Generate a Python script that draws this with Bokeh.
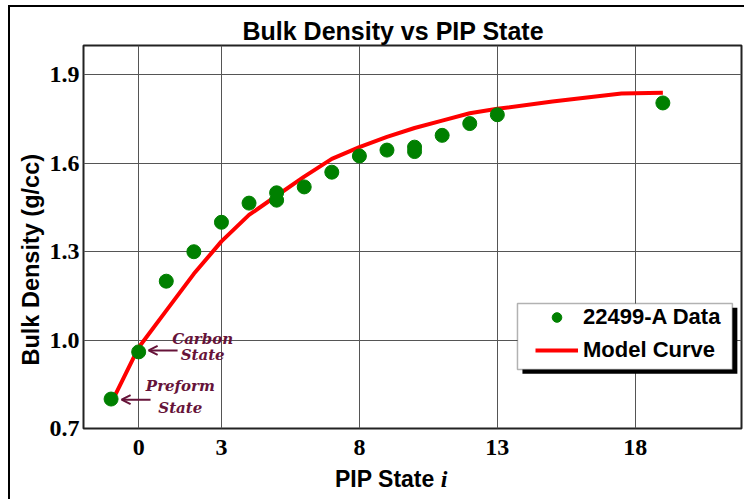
import math
from bokeh.plotting import figure
from bokeh.layouts import column
from bokeh.models import (FixedTicker, NumeralTickFormatter, Label, Arrow, OpenHead,
                          BoxAnnotation, Legend, LegendItem, Range1d, Title, Div)
from bokeh.embed import file_html
from bokeh.resources import INLINE

# ---- data ----
pip_state = [-1, 0, 1, 2, 3, 4, 5, 5, 6, 7, 8, 9, 10, 10, 11, 12, 13, 19]
bulk_density = [0.80, 0.96, 1.20, 1.30, 1.40, 1.465, 1.50, 1.475, 1.52, 1.57,
                1.625, 1.645, 1.655, 1.64, 1.695, 1.735, 1.765, 1.805]

model_state = [-1, 0, 1, 2, 3, 4, 5, 6, 7, 8, 9, 10, 11, 12, 13, 15, 17.5, 19]
model_density = [0.785, 0.975, 1.10, 1.225, 1.335, 1.425, 1.49, 1.555, 1.615, 1.655,
                 1.69, 1.72, 1.745, 1.77, 1.785, 1.81, 1.837, 1.84]

x_ticks = [0, 3, 8, 13, 18]
y_ticks = [0.7, 1.0, 1.3, 1.6, 1.9]

title_text = "Bulk Density vs PIP State"
x_label = "PIP State"
x_label_var = "i"
y_label = "Bulk Density  (g/cc)"
series_names = ["22499-A Data", "Model Curve"]

MAROON = "#661339"
SANS = "Liberation Sans"
SERIF = "Liberation Serif"

p = figure(width=734, height=462, output_backend="svg", toolbar_location=None,
           x_range=Range1d(-2, 21.85), y_range=Range1d(0.7, 2.0),
           min_border_left=73, min_border_right=3, min_border_top=38, min_border_bottom=41)
p.title = Title(text=title_text, align="left", offset=159, standoff=2,
                text_font=SANS, text_font_style="bold", text_font_size="25px",
                text_color="black")
p.background_fill_color = "white"
p.border_fill_color = "white"
p.outline_line_color = "#222222"
p.outline_line_width = 2

for ax in (p.xaxis[0], p.yaxis[0]):
    ax.axis_line_color = None
    ax.major_tick_line_color = None
    ax.minor_tick_line_color = None
    ax.major_tick_out = 0
    ax.major_tick_in = 0
    ax.minor_tick_out = 0
    ax.minor_tick_in = 0
    ax.major_label_text_font = SERIF
    ax.major_label_text_font_style = "bold"
    ax.major_label_text_font_size = "24px"
    ax.major_label_text_color = "black"

p.xaxis.ticker = FixedTicker(ticks=x_ticks)
p.yaxis.ticker = FixedTicker(ticks=y_ticks)
p.yaxis.formatter = NumeralTickFormatter(format="0.0")
p.xaxis.major_label_standoff = 11
p.yaxis.major_label_standoff = 4

p.xgrid.ticker = FixedTicker(ticks=x_ticks)
p.ygrid.ticker = FixedTicker(ticks=y_ticks)
for g in (p.xgrid[0], p.ygrid[0]):
    g.grid_line_color = "#555555"
    g.grid_line_width = 1

# y axis label as a vertical title in the left panel
p.add_layout(Title(text=y_label, align="left", offset=63, standoff=6,
                   text_font=SANS, text_font_style="bold", text_font_size="23.5px",
                   text_color="black"), "left")

# ---- glyphs ----
line_r = p.line(model_state, model_density, line_color="#FF0000", line_width=4)
pts_r = p.scatter(pip_state, bulk_density, size=14, fill_color="#008000",
                  line_color="#008000", marker="circle")

# ---- legend box with shadow ----
p.add_layout(BoxAnnotation(left=13.91, right=21.70, top=1.110, bottom=0.886,
                           fill_color="black", fill_alpha=1.0, line_color=None,
                           level="annotation"))
p.add_layout(BoxAnnotation(left=13.73, right=21.52, top=1.124, bottom=0.900,
                           fill_color="white", fill_alpha=1.0, line_color="black",
                           line_width=1.5, level="annotation"))

legend = Legend(items=[LegendItem(label=series_names[0], renderers=[pts_r]),
                       LegendItem(label=series_names[1], renderers=[line_r])],
                location=(447, 60), padding=5, spacing=7, margin=0,
                glyph_width=43, glyph_height=24, label_height=24, label_standoff=5,
                label_text_font=SANS, label_text_font_style="bold",
                label_text_font_size="22px", label_text_color="black",
                background_fill_alpha=0, border_line_alpha=0)
p.add_layout(legend, "center")

# ---- annotations ----
def ann(text, x, y):
    p.add_layout(Label(x=x, y=y, text=text, text_font="DejaVu Serif",
                       text_font_style="bold italic", text_font_size="15px",
                       text_color=MAROON, text_align="center", text_baseline="middle"))

ann("Carbon", 2.32, 1.005)
ann("State", 2.32, 0.948)
ann("Preform", 1.51, 0.843)
ann("State", 1.51, 0.768)

for xs, xe, yy in [(1.41, 0.36, 0.965), (0.43, -0.62, 0.798)]:
    p.add_layout(Arrow(x_start=xs, y_start=yy, x_end=xe, y_end=yy,
                       line_color=MAROON, line_width=2,
                       end=OpenHead(size=9, line_color=MAROON, line_width=2)))

# ---- x axis label strip (two fonts) ----
xlab_html = (
    '<div style="position:relative;width:734px;height:30px;">'
    '<span style="position:absolute;left:325px;top:-2px;white-space:nowrap;'
    'font-family:\'Liberation Sans\';font-weight:bold;font-size:23px;line-height:1;color:black;">'
    f'{x_label} <span style="font-family:\'Liberation Serif\';font-style:italic;'
    f'font-size:24px;">{x_label_var}</span></span></div>'
)
xdiv = Div(text=xlab_html, width=734, height=30, margin=0,
           styles={"overflow": "visible", "background-color": "white"})

layout = column(p, xdiv, spacing=0, margin=(5, 0, 0, 8),
                styles={"border-left": "2px solid black", "border-top": "2px solid black"})

open("out.html", "w").write(file_html(layout, INLINE))
